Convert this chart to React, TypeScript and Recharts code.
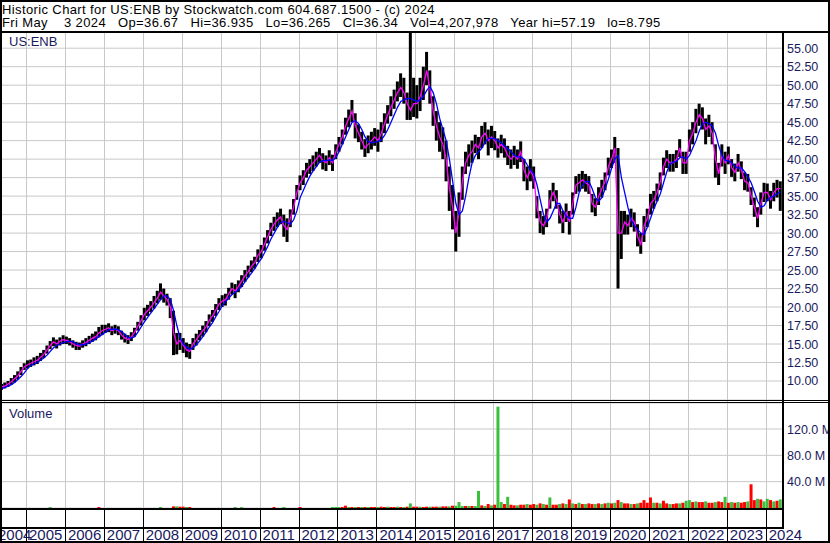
import { Bar, CartesianGrid, Cell, ComposedChart, Line, XAxis, YAxis } from "recharts";

// one value per month, May 2004 .. May 2024 (rows are calendar years)
const high = [
  9.6, 9.8, 10.0, 10.4, 10.8, 11.3, 11.9, 12.4,
  12.8, 12.9, 13.2, 13.4, 13.8, 14.2, 14.8, 15.4, 15.9, 15.6, 15.9, 16.2,
  16.0, 15.8, 15.5, 15.3, 15.2, 15.5, 15.8, 16.1, 16.4, 16.7, 17.3, 17.6,
  17.6, 17.8, 17.4, 17.6, 17.4, 16.8, 16.4, 16.2, 16.6, 17.2, 18.0, 18.9,
  19.9, 20.3, 20.8, 21.5, 22.2, 23.2, 22.5, 21.8, 21.2, 19.5, 16.5, 16.5,
  15.8, 15.2, 15.0, 15.8, 16.4, 16.9, 17.5, 18.1, 19.0, 19.6, 20.4, 21.2,
  21.6, 21.8, 22.6, 23.3, 23.1, 23.6, 24.3, 25.0, 25.6, 26.3, 26.8, 27.8,
  28.4, 29.4, 30.4, 31.4, 32.2, 32.8, 33.3, 32.5, 32.0, 33.2, 34.6, 36.5,
  37.8, 38.5, 39.5, 40.0, 40.5, 41.0, 41.5, 40.8, 40.5, 41.2, 40.6, 42.0,
  43.0, 44.0, 45.6, 46.7, 48.0, 46.2, 44.7, 43.7, 42.7, 43.2, 43.7, 44.2,
  44.0, 45.0, 46.2, 47.3, 48.5, 49.4, 50.5, 51.6, 51.0, 49.0, 57.19, 51.0,
  50.0, 51.0, 52.5, 54.5, 52.0, 48.5, 46.5, 45.0, 44.3, 42.5, 39.0, 36.5,
  33.0, 35.5, 39.0, 41.0, 42.0, 42.5, 43.3, 43.0, 44.5, 45.0, 44.0, 44.5,
  43.8, 42.8, 43.3, 42.8, 41.8, 41.3, 41.8, 41.3, 42.4, 40.0, 39.0, 40.0,
  39.0, 35.0, 33.0, 32.3, 33.3, 35.8, 36.8, 35.8, 33.8, 33.0, 34.0, 33.0,
  35.5, 37.7, 38.0, 38.4, 38.0, 37.7, 35.3, 34.7, 36.2, 37.2, 38.2, 40.2,
  41.3, 43.0, 41.5, 33.0, 33.0, 32.5, 33.3, 32.8, 31.2, 30.0, 32.3, 33.3,
  35.3, 35.7, 36.7, 38.2, 40.2, 41.2, 40.7, 40.7, 41.2, 42.7, 41.0, 41.0,
  44.0, 45.0, 46.8, 47.5, 47.0, 45.5, 46.0, 45.0, 42.0, 39.5, 42.0, 41.0,
  41.7, 40.0, 39.4, 40.7, 39.7, 38.2, 38.0, 36.2, 34.8, 33.5, 35.5, 36.8,
  36.7, 35.7, 36.8, 37.2, 37.0,
];

const low = [
  8.8, 9.0, 9.2, 9.5, 9.8, 10.2, 10.8, 11.5,
  11.7, 11.9, 12.1, 12.3, 12.7, 13.1, 13.7, 14.3, 14.7, 14.4, 14.8, 15.0,
  15.0, 14.8, 14.5, 14.2, 14.2, 14.5, 14.7, 15.0, 15.3, 15.5, 15.9, 16.2,
  16.5, 16.6, 16.2, 16.4, 16.2, 15.6, 15.2, 15.0, 15.4, 16.0, 16.8, 17.5,
  18.2, 18.8, 19.3, 19.8, 20.5, 21.0, 20.6, 20.2, 18.5, 13.5, 13.6, 14.2,
  13.8, 13.2, 13.0, 14.2, 14.8, 15.5, 16.0, 16.6, 17.4, 18.0, 18.8, 19.6,
  20.0, 20.2, 21.0, 21.7, 21.2, 22.0, 22.7, 23.4, 24.0, 24.7, 25.2, 26.1,
  26.6, 27.6, 28.6, 29.6, 30.3, 30.8, 31.2, 29.5, 28.8, 30.8, 32.5, 34.5,
  35.8, 36.5, 37.5, 38.0, 38.4, 39.0, 39.5, 38.6, 38.4, 39.2, 38.4, 40.0,
  41.0, 42.0, 43.3, 44.3, 45.0, 42.8, 42.3, 41.3, 40.3, 40.8, 41.3, 41.8,
  41.0, 42.3, 43.5, 44.8, 45.8, 46.8, 47.8, 48.4, 47.5, 45.3, 45.3, 45.7,
  45.5, 46.5, 48.0, 50.0, 47.5, 44.5, 42.5, 41.0, 40.0, 37.0, 33.0, 30.5,
  27.5, 29.5, 34.5, 38.0, 39.0, 39.5, 40.8, 40.0, 41.5, 42.0, 40.5, 41.5,
  41.2, 40.2, 40.8, 40.2, 39.2, 38.7, 39.2, 38.7, 39.6, 37.0, 35.8, 37.0,
  36.0, 32.0, 30.0, 29.8, 30.8, 33.3, 34.3, 33.3, 31.3, 30.0, 31.5, 29.8,
  32.5, 35.3, 35.6, 36.0, 35.6, 35.3, 32.8, 32.3, 33.8, 34.8, 35.8, 37.8,
  38.8, 39.5, 22.5, 26.5, 29.8, 29.8, 30.8, 30.2, 28.2, 27.2, 28.8, 30.8,
  32.5, 33.3, 34.3, 35.8, 37.8, 38.8, 38.3, 38.3, 38.8, 40.3, 38.0, 38.0,
  41.0, 42.0, 43.5, 44.5, 44.0, 42.0, 43.0, 42.0, 37.5, 36.5, 39.0, 38.0,
  39.3, 37.6, 37.0, 38.3, 37.3, 35.8, 35.6, 33.8, 32.2, 30.8, 32.5, 34.2,
  34.3, 33.3, 34.3, 34.8, 33.0,
];

// short average (magenta)
const fastAvg = [
  9.2, 9.3, 9.6, 9.9, 10.3, 10.7, 11.3, 11.9,
  12.2, 12.4, 12.6, 12.8, 13.2, 13.6, 14.2, 14.8, 15.3, 15.0, 15.4, 15.6,
  15.5, 15.3, 15.0, 14.8, 14.7, 15.0, 15.2, 15.5, 15.8, 16.0, 16.5, 16.8,
  17.0, 17.2, 16.8, 17.0, 16.8, 16.2, 15.8, 15.6, 16.0, 16.6, 17.4, 18.2,
  19.0, 19.5, 20.0, 20.6, 21.2, 22.0, 21.5, 21.0, 20.0, 16.5, 15.0, 15.5,
  14.8, 14.2, 14.0, 15.0, 15.6, 16.2, 16.8, 17.3, 18.2, 18.8, 19.6, 20.4,
  20.8, 21.0, 21.8, 22.5, 22.2, 22.8, 23.5, 24.2, 24.8, 25.5, 26.0, 27.0,
  27.5, 28.5, 29.5, 30.5, 31.2, 31.8, 32.2, 31.0, 30.5, 32.0, 33.5, 35.5,
  36.8, 37.5, 38.5, 39.0, 39.5, 40.0, 40.5, 39.8, 39.5, 40.2, 39.5, 41.0,
  42.0, 43.0, 44.5, 45.5, 46.5, 44.5, 43.5, 42.5, 41.5, 42.0, 42.5, 43.0,
  42.5, 43.5, 44.8, 46.0, 47.0, 48.0, 49.0, 49.7, 49.0, 47.5, 46.6, 47.5,
  47.5, 48.5, 50.0, 52.0, 49.5, 46.5, 44.5, 43.0, 42.0, 40.0, 36.0, 33.5,
  30.0, 33.0, 37.0, 39.5, 40.5, 41.0, 42.0, 41.5, 43.0, 43.5, 42.5, 43.0,
  42.5, 41.5, 42.0, 41.5, 40.5, 40.0, 40.5, 40.0, 41.0, 38.5, 37.5, 38.5,
  37.5, 33.5, 31.5, 31.0, 32.0, 34.5, 35.5, 34.5, 32.5, 31.5, 32.8, 31.5,
  34.0, 36.5, 36.8, 37.2, 36.8, 36.5, 34.0, 33.5, 35.0, 36.0, 37.0, 39.0,
  40.0, 41.5, 30.0, 30.0, 31.5, 31.0, 32.0, 31.5, 29.5, 28.5, 31.0, 32.0,
  34.0, 34.5, 35.5, 37.0, 39.0, 40.0, 39.5, 39.5, 40.0, 41.5, 39.5, 39.5,
  42.5, 43.5, 45.0, 46.0, 45.5, 44.0, 44.5, 43.5, 40.0, 38.0, 40.5, 39.5,
  40.5, 38.8, 38.2, 39.5, 38.5, 37.0, 36.8, 35.0, 33.5, 32.0, 34.0, 35.5,
  35.5, 34.5, 35.5, 36.0, 36.0,
];

// long average (blue)
const slowAvg = [
  9.0, 9.1, 9.3, 9.5, 9.8, 10.2, 10.6, 11.1,
  11.7, 12.1, 12.3, 12.5, 12.8, 13.1, 13.5, 14.0, 14.5, 14.8, 15.0, 15.2,
  15.3, 15.4, 15.3, 15.1, 14.9, 14.9, 15.0, 15.2, 15.4, 15.7, 16.0, 16.3,
  16.6, 16.9, 17.0, 17.0, 16.9, 16.7, 16.3, 15.9, 15.8, 16.0, 16.6, 17.3,
  18.0, 18.6, 19.2, 19.8, 20.4, 21.0, 21.5, 21.5, 21.0, 19.5, 17.5, 15.8,
  15.0, 14.6, 14.3, 14.5, 14.9, 15.4, 16.0, 16.6, 17.3, 17.9, 18.7, 19.4,
  20.2, 20.7, 21.2, 21.7, 22.0, 22.3, 22.8, 23.4, 24.0, 24.6, 25.2, 25.9,
  26.5, 27.3, 28.2, 29.2, 30.0, 30.8, 31.4, 31.6, 31.4, 31.2, 31.8, 33.0,
  34.8, 35.8, 36.8, 37.7, 38.4, 39.0, 39.6, 39.8, 39.8, 39.9, 39.8, 40.2,
  41.0, 42.0, 43.0, 44.0, 45.0, 45.2, 44.8, 44.0, 43.0, 42.4, 42.2, 42.3,
  42.4, 42.6, 43.2, 44.0, 45.0, 46.0, 47.0, 47.8, 48.0, 48.2, 48.2, 48.0,
  47.8, 48.0, 48.5, 49.3, 49.8, 49.0, 47.5, 45.5, 44.0, 42.5, 40.0, 37.0,
  34.0, 32.5, 33.0, 35.0, 37.5, 39.5, 40.5, 41.0, 41.5, 42.3, 42.8, 42.8,
  42.8, 42.5, 42.2, 41.8, 41.4, 41.0, 40.5, 40.3, 40.3, 40.0, 39.2, 38.5,
  38.0, 36.5, 34.5, 32.5, 31.5, 32.0, 33.0, 34.0, 34.0, 33.0, 32.3, 32.0,
  32.0, 33.5, 35.5, 36.5, 37.0, 37.0, 36.0, 34.8, 34.3, 34.8, 36.0, 37.3,
  38.8, 40.0, 40.5, 37.5, 35.5, 33.5, 31.8, 31.0, 30.5, 30.0, 29.8, 30.8,
  32.0, 33.3, 34.3, 35.3, 36.8, 38.3, 39.3, 39.6, 39.7, 40.2, 40.3, 40.0,
  40.5, 41.5, 42.5, 43.8, 44.8, 45.0, 44.8, 44.5, 43.5, 41.8, 40.5, 39.8,
  39.8, 39.5, 39.0, 38.8, 38.8, 38.3, 37.6, 36.8, 35.6, 34.3, 33.5, 33.7,
  34.5, 34.8, 35.0, 35.3, 35.6,
];

// volume in millions
const volume = [
  0, 0, 0, 0, 0, 0, 0, 0,
  0, 0, 0, 0, 0, 0, 0, 1.5, 0, 0, 0, 0,
  0, 0, 0, 0, 0, 0, 0, 0, 0, 0, 1.5, 0,
  0, 0, 0, 0, 0, 0, 0, 0, 0, 0, 0, 0,
  0, 0, 0, 0, 0, 1.5, 0, 0, 0, 2.5, 2.5, 2,
  2, 1.5, 1.5, 0, 0, 0, 0, 0, 0, 0, 0, 0,
  0, 0, 0, 0, 1.5, 0, 1.5, 0, 0, 0, 0, 0,
  0, 0, 0, 0, 1.5, 0, 0, 1.5, 0, 0, 0, 0,
  1.5, 0, 0, 0, 0, 0, 0, 0, 0, 0, 1.5, 1.5,
  1.5, 1.5, 3.5, 1.5, 1.5, 1.5, 1.5, 1.5, 1.5, 1.5, 1.5, 1.5,
  1.5, 2, 1.5, 2, 1.5, 1.5, 2, 1.5, 1.5, 2, 7, 2,
  2, 2, 1.5, 2, 2, 2, 2, 2, 2.5, 2.5, 2.5, 3.5,
  3.5, 9, 3, 3, 3, 3, 3, 26, 4, 3, 6, 4,
  5, 154, 9, 6, 17, 5, 4, 4, 5, 5, 6, 5,
  6, 5, 7, 6, 5, 16, 5, 5, 6, 7, 6, 13,
  7, 6, 8, 6, 6, 7, 6, 6, 7, 6, 7, 8,
  7, 8, 12, 9, 7, 7, 6, 6, 7, 8, 12, 8,
  16, 8, 8, 7, 11, 7, 6, 6, 7, 7, 8, 11,
  12, 9, 10, 9, 9, 10, 8, 8, 9, 10, 9, 17,
  8, 9, 8, 9, 8, 9, 10, 36, 12, 14, 13, 10,
  14, 12, 10, 11, 13,
];

// g = up (green), r = down (red)
const volumeSide = [
  "gggggggg",
  "gggggggggggg",
  "rrrrrrrrrrrr",
  "gggggggggggg",
  "gggggggggrgr",
  "rgrggggggggg",
  "gggggggggggg",
  "ggggrggggggg",
  "rggggggggggg",
  "grrgrgrgrgrr",
  "grrgrrgrgrgr",
  "rgrrgrrgrrgr",
  "gggrgrggrgrg",
  "rggrgrrgrrgr",
  "rgrgrgrrgrgr",
  "grgrgrrgrgrg",
  "rgrgrrgrgrrr",
  "rgrgrrgrrgrg",
  "grgrrgrrgrrg",
  "rgrgrrgrrgrg",
  "grgrg",
].join("");

const yearLabels = [
  "2004", "2005", "2006", "2007", "2008", "2009", "2010", "2011", "2012", "2013",
  "2014", "2015", "2016", "2017", "2018", "2019", "2020", "2021", "2022", "2023", "2024",
];
const priceTicks = [10, 12.5, 15, 17.5, 20, 22.5, 25, 27.5, 30, 32.5, 35, 37.5, 40, 42.5, 45, 47.5, 50, 52.5, 55];
const volumeTicks = [40, 80, 120];

// month index 0 = May 2004, so January of each following year starts at 8, 20, ...
const yearStarts = yearLabels.slice(1).map((_, k) => 8 + 12 * k);
const monthSpan: [number, number] = [0, 241];
const PLOT_W = 782;

const rows = high.map((h, i) => ({
  m: i + 0.5,
  range: [low[i], h],
  fast: fastAvg[i],
  slow: slowAvg[i],
  vol: volume[i],
  side: volumeSide[i],
}));

// one full-height mark per January for the background year grid
const gridRows = yearStarts.map((m) => ({ m, grid: 1 }));

const axisText = "#1a1a5e";
const gridColor = "#c8c8c8";
const font = '"Liberation Sans", Arial, sans-serif';

const PriceTick = ({ x, y, payload }: any) => (
  <text x={x} y={y + 4.5} fontSize={12.5} fill={axisText} textAnchor="start" fontFamily={font}>
    {Number(payload.value).toFixed(2)}
  </text>
);

const VolumeTick = ({ x, y, payload }: any) => (
  <text x={x} y={y + 4.5} fontSize={12.5} fill={axisText} textAnchor="start" fontFamily={font}>
    {Number(payload.value).toFixed(1)} M
  </text>
);

// 1px grid column, snapped to the pixel under the scaled position
const GridShape = ({ x, y, width, height }: any) => (
  <rect x={Math.round(x + width / 2)} y={y} width={1} height={height} fill={gridColor} />
);

const YearTick = ({ x, y, payload }: any) => {
  const k = yearStarts.indexOf(payload.value);
  const lx = Math.round(x) + 0.5;
  return (
    <g>
      <line x1={lx} x2={lx} y1={y} y2={y + 35} stroke="#000" />
      <text x={x + 3} y={y + 32} fontSize={15} fill={axisText} textAnchor="start" fontFamily={font}>
        {yearLabels[k + 1]}
      </text>
      {k === 0 && (
        <text x={x - 28} y={y + 32} fontSize={15} fill={axisText} textAnchor="start" fontFamily={font}>
          {yearLabels[0]}
        </text>
      )}
    </g>
  );
};

const line = (style: React.CSSProperties) => (
  <div style={{ position: "absolute", background: "#000", ...style }} />
);

export default function App() {
  return (
    <div
      style={{
        position: "absolute",
        left: 0,
        top: 0,
        width: 830,
        height: 543,
        background: "#fff",
        overflow: "hidden",
        fontFamily: font,
      }}
    >
      <div
        style={{
          position: "absolute",
          left: 2,
          top: 3,
          fontSize: 13,
          lineHeight: "13.4px",
          letterSpacing: "0.38px",
          whiteSpace: "pre",
          color: "#000",
        }}
      >
        <div>Historic Chart for US:ENB by Stockwatch.com 604.687.1500 - (c) 2024</div>
        <div>Fri May    3 2024   Op=36.67   Hi=36.935   Lo=36.265   Cl=36.34   Vol=4,207,978   Year hi=57.19   lo=8.795</div>
      </div>

      {/* year grid, behind both panels */}
      {yearStarts.map((m) => (
        <div
          key={m}
          style={{
            position: "absolute",
            left: Math.round((PLOT_W * (m - monthSpan[0])) / (monthSpan[1] - monthSpan[0])),
            top: 33,
            width: 1,
            height: 475,
            background: gridColor,
          }}
        />
      ))}
      <div style={{ position: "absolute", left: 0, top: 32 }}>
        <ComposedChart width={830} height={476} data={gridRows} margin={{ top: 0, right: 48, bottom: 0, left: 0 }}>
          <XAxis dataKey="m" type="number" domain={monthSpan} hide />
          <YAxis hide domain={[0, 1]} />
          <Bar dataKey="grid" barSize={1} shape={GridShape} isAnimationActive={false} />
        </ComposedChart>
      </div>

      <div style={{ position: "absolute", left: 0, top: 32 }}>
        <ComposedChart width={830} height={368} data={rows} margin={{ top: 0, right: 0, bottom: 0, left: 0 }}>
          <CartesianGrid stroke={gridColor} vertical={false} />
          <XAxis dataKey="m" type="number" domain={monthSpan} ticks={yearStarts} hide />
          <YAxis
            orientation="right"
            width={48}
            domain={[7.43, 57.19]}
            ticks={priceTicks}
            axisLine={false}
            tickLine={false}
            tickSize={0}
            tickMargin={5}
            tick={PriceTick}
            interval={0}
          />
          <Bar dataKey="range" fill="#000" barSize={3} isAnimationActive={false} />
          <Line dataKey="fast" stroke="#ff00ff" strokeWidth={1.3} dot={false} isAnimationActive={false} />
          <Line dataKey="slow" stroke="#0000ff" strokeWidth={1.3} dot={false} isAnimationActive={false} />
        </ComposedChart>
      </div>

      <div style={{ position: "absolute", left: 0, top: 403 }}>
        <ComposedChart width={830} height={140} data={rows} margin={{ top: 0, right: 0, bottom: 0, left: 0 }}>
          <CartesianGrid stroke={gridColor} vertical={false} />
          <XAxis
            dataKey="m"
            type="number"
            domain={monthSpan}
            ticks={yearStarts}
            height={35}
            axisLine={false}
            tickLine={false}
            tickSize={0}
            tickMargin={0}
            tick={YearTick}
            interval={0}
          />
          <YAxis
            orientation="right"
            width={48}
            domain={[0, 159.5]}
            ticks={volumeTicks}
            axisLine={false}
            tickLine={false}
            tickSize={0}
            tickMargin={5}
            tick={VolumeTick}
            interval={0}
          />
          <Bar dataKey="vol" barSize={3} isAnimationActive={false}>
            {rows.map((r, i) => (
              <Cell key={i} fill={r.side === "g" ? "#3cbf3c" : "#ff0000"} />
            ))}
          </Bar>
        </ComposedChart>
      </div>

      <div style={{ position: "absolute", left: 9, top: 35, fontSize: 13, lineHeight: "13px", color: axisText }}>
        US:ENB
      </div>
      <div style={{ position: "absolute", left: 9, top: 407, fontSize: 13, lineHeight: "13px", color: axisText }}>
        Volume
      </div>

      {line({ left: 0, top: 0, width: 830, height: 2 })}
      {line({ left: 0, top: 541, width: 830, height: 2 })}
      {line({ left: 0, top: 0, width: 2, height: 543 })}
      {line({ left: 828, top: 0, width: 2, height: 543 })}
      {line({ left: 0, top: 31, width: 830, height: 2 })}
      {line({ left: 782, top: 31, width: 2, height: 498 })}
      {line({ left: 0, top: 400, width: 830, height: 1 })}
      {line({ left: 0, top: 402, width: 830, height: 1 })}
      {line({ left: 0, top: 508, width: 784, height: 2 })}
      {line({ left: 0, top: 527, width: 784, height: 2 })}
    </div>
  );
}
